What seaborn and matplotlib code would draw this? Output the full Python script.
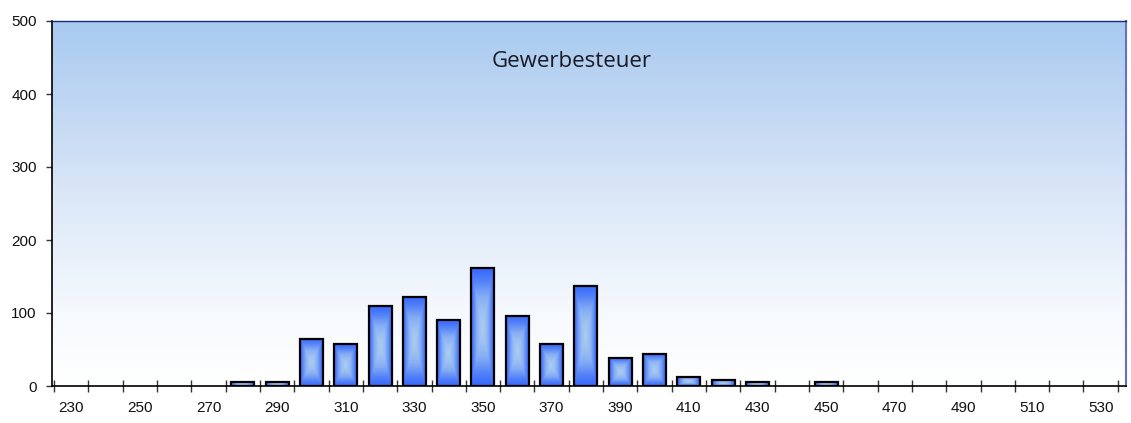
import numpy as np
import pandas as pd
import matplotlib
matplotlib.use('Agg')
import matplotlib.pyplot as plt
import seaborn as sns
from matplotlib.colors import LinearSegmentedColormap

# bin centres and counts
bins = [280, 290, 300, 310, 320, 330, 340, 350, 360, 370, 380, 390, 400, 410, 420, 430, 440, 450]
counts = [5, 5, 65, 57, 109, 122, 90, 161, 96, 57, 137, 39, 44, 13, 8, 5, 0, 5]
x_labels = list(range(230, 531, 20))
title = 'Gewerbesteuer'

df = pd.DataFrame({'bin': bins, 'count': counts})

sns.set_style('white')
plt.rcParams['font.family'] = ['Liberation Sans', 'DejaVu Sans']

fig = plt.figure(figsize=(11.31, 4.23), dpi=100)
ax = fig.add_axes([52 / 1131, 37 / 423, 1074 / 1131, 365 / 423])

xmin, xmax, ymin, ymax = 224.4, 537.4, 0, 500

# background gradient, light blue at top fading to white
bg_cmap = LinearSegmentedColormap.from_list(
    'bg', [(0, '#ffffff'), (0.2, '#f6f9fd'), (0.5, '#dde9f8'), (0.75, '#c2d8f3'), (1, '#a8caf0')])
grad = np.linspace(0, 1, 256).reshape(-1, 1)
ax.imshow(grad, extent=[xmin, xmax, ymin, ymax], origin='lower', aspect='auto',
          cmap=bg_cmap, zorder=0)

sns.barplot(data=df, x='bin', y='count', native_scale=True, width=0.67,
            color='#3a68f8', edgecolor='black', linewidth=1.6, ax=ax, zorder=2)

# pillow style shading inside each bar
bar_cmap = LinearSegmentedColormap.from_list('bar', ['#a8caf2', '#86aef4', '#5482f8', '#3566fe'])
n = 200
u = np.linspace(-1, 1, n)
U, V = np.meshgrid(u, u)
shade = np.maximum(np.abs(U), np.abs(V)) ** 1.6
for p in ax.patches:
    h = p.get_height()
    if h <= 0:
        p.set_visible(False)
        continue
    x0 = p.get_x()
    w = p.get_width()
    im = ax.imshow(shade, extent=[x0, x0 + w, 0, h], origin='lower', aspect='auto',
                   cmap=bar_cmap, zorder=2.5)
    im.set_clip_path(p)
    p.set_zorder(3)
    p.set_facecolor('none')

ax.set_xlim(xmin, xmax)
ax.set_ylim(ymin, ymax)

ax.set_xticks(np.arange(225, 536, 10))
ax.set_xticklabels([])
ax.set_xticks(x_labels, minor=True)
ax.set_xticklabels([str(v) for v in x_labels], minor=True)
ax.tick_params(axis='x', which='major', direction='inout', length=9, width=1, color='#333333')
ax.tick_params(axis='x', which='minor', length=0, pad=11, labelsize=11, labelcolor='#111111')

ax.set_yticks(np.arange(0, 501, 100))
ax.set_yticks(np.arange(0, 501, 20), minor=True)
ax.tick_params(axis='y', which='major', direction='out', length=4, width=1, pad=7,
               labelsize=11, labelcolor='#111111', color='#333333')
ax.tick_params(axis='y', which='minor', direction='out', length=4, width=1, color='#333333')
ax.tick_params(left=True, bottom=True)

ax.set_xlabel('')
ax.set_ylabel('')

for side in ['left', 'bottom']:
    ax.spines[side].set_color('black')
    ax.spines[side].set_linewidth(1.2)
ax.spines['top'].set_color('#1a2a7a')
ax.spines['top'].set_linewidth(1)
ax.spines['right'].set_color('#6670c8')
ax.spines['right'].set_linewidth(1.5)
for s in ax.spines.values():
    s.set_zorder(5)

ax.text(0.4835, 0.888, title, transform=ax.transAxes, ha='center', va='center',
        fontsize=16, color='#1a1a24', family=['Open Sans', 'DejaVu Sans'])

fig.savefig('out.png', dpi=100)
